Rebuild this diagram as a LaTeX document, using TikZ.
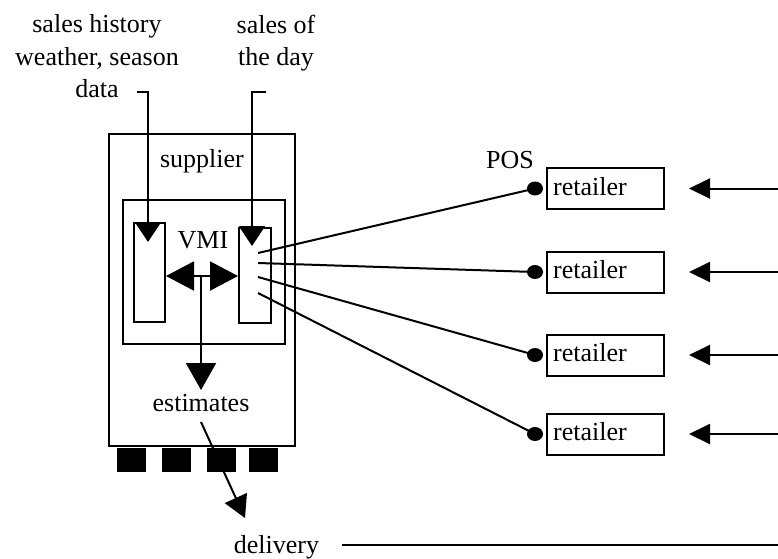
\documentclass[tikz,border=0pt]{standalone}
\usepackage{fontspec}
\setmainfont{Liberation Serif}
\usetikzlibrary{arrows.meta,shapes.geometric}
\tikzset{
  lbl/.style={inner sep=0pt, font=\fontsize{26}{32.5}\selectfont},
  frame/.style={draw, line width=2pt, inner sep=0pt},
  foot/.style={fill=black, inner sep=0pt, minimum width=29pt, minimum height=24pt},
  posdot/.style={fill=black, ellipse, inner sep=0pt, minimum width=16pt, minimum height=14pt},
  wire/.style={line width=2pt},
  bigtip/.style={-{Triangle[length=20pt,width=26pt]}},
  feedtip/.style={-{Triangle[length=21pt,width=20pt]}},
}
\begin{document}
\begin{tikzpicture}[x=1pt, y=-1pt]
\useasboundingbox (0,0) rectangle (778,558);

% supplier with its VMI unit
\node[frame, minimum width=186pt, minimum height=312pt] (sup) at (202,290) {};
\node[lbl, anchor=base] (suplbl) at (202,167) {supplier};
\node[frame, minimum width=162pt, minimum height=144pt] (vmi) at (204,272) {};
\node[lbl, anchor=base] (vmilbl) at (203,248) {VMI};
\node[frame, minimum width=31pt, minimum height=99pt] (hist) at (149.5,272.5) {};
\node[frame, minimum width=32pt, minimum height=95pt] (day) at (255,275.5) {};
\node[lbl, anchor=base] (est) at (201,411) {estimates};

% feet under the supplier
\node[foot] (f1) at (131,460) {};
\node[foot] (f2) at (176,460) {};
\node[foot] (f3) at (221,460) {};
\node[foot] (f4) at (263,460) {};

% input data
\node[lbl, align=center, anchor=north] (histlbl) at (97,14.5) {sales history\\weather, season\\data};
\node[lbl, align=center, anchor=north] (daylbl) at (276,14.5) {sales of\\the day};

\coordinate (h0) at (137,92);
\coordinate (h1) at (148,92);
\coordinate (d0) at (266,92);
\coordinate (d1) at (252,92);
\draw[wire, bigtip] (h0) -- (h1) -- (h1 |- hist.north) -- ++(0,20);
\draw[wire, bigtip] (d0) -- (d1) -- (d1 |- day.north) -- ++(0,19);

% exchange inside VMI and estimates
\draw[wire, {Triangle[length=28pt,width=29pt]}-{Triangle[length=28pt,width=29pt]}]
  (hist.east |- 0,276) -- (day.west |- 0,276);
\coordinate (mid) at (201,276);
\draw[wire, -{Triangle[length=27pt,width=30pt]}] (mid) -- (201,390);

% delivery
\node[lbl, anchor=base] (deliv) at (276.5,553) {delivery};
\coordinate (dstart) at (201,422);
\draw[wire, -{Triangle[length=22pt,width=24pt]}] (dstart) -- (245,518);
\coordinate (dend) at (778,545);
\draw[wire] (342,545) -- (dend);

% retailers with POS terminals
\foreach \i/\y in {1/188.5, 2/272, 3/355, 4/434} {
  \node[frame, minimum width=117pt, minimum height=41pt] (ret\i) at (605.5,\y) {};
  \node[lbl, anchor=base west] (rl\i) at ([xshift=7pt]ret\i.west |- 0,\y+6.5) {retailer};
  \node[posdot] (pos\i) at ([xshift=-11pt]ret\i.west) {};
  \coordinate (in\i) at (778,\y);
  \draw[wire, feedtip] (in\i) -- ([xshift=24pt]ret\i.east);
}
\node[lbl, anchor=base] (poslbl) at (510,168) {POS};

% links from the VMI unit to the POS terminals
\coordinate (p1) at (258,253);
\coordinate (p2) at (258,263);
\coordinate (p3) at (258,277);
\coordinate (p4) at (258,293);
\foreach \i in {1,2,3,4} \draw[wire] (p\i) -- (pos\i.center);
\end{tikzpicture}
\end{document}
